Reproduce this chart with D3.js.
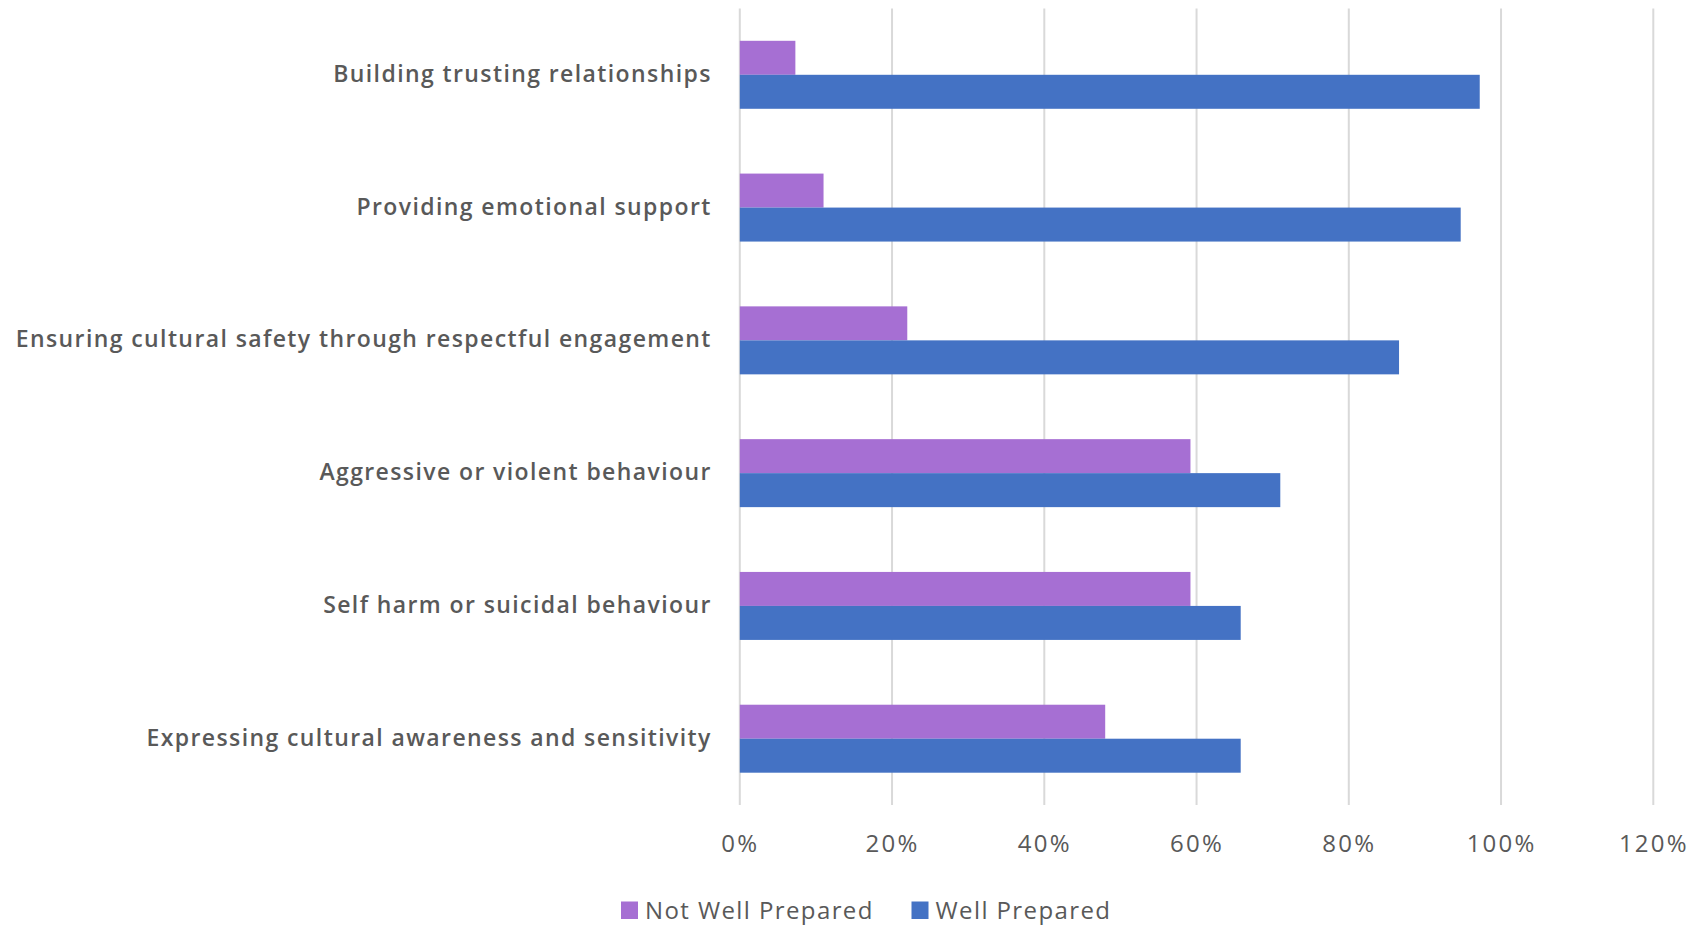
<!DOCTYPE html>
<html>
<head>
<meta charset="utf-8">
<script src="https://cdn.jsdelivr.net/npm/d3@7"></script>
<style>
  html, body { margin: 0; padding: 0; background: #ffffff; }
  svg { display: block; }
  text { font-family: "Open Sans", "Noto Sans", sans-serif; fill: #595959; }
</style>
</head>
<body>
<svg id="chart" width="1701" height="925"></svg>
<script>
// Survey categories, listed top to bottom
const categories = [
  "Building trusting relationships",
  "Providing emotional support",
  "Ensuring cultural safety through respectful engagement",
  "Aggressive or violent behaviour",
  "Self harm or suicidal behaviour",
  "Expressing cultural awareness and sensitivity"
];

// Share of respondents (%) per category
const notWellPrepared = [7.3, 11, 22, 59.2, 59.2, 48];
const wellPrepared = [97.2, 94.7, 86.6, 71, 65.8, 65.8];

const seriesNames = ["Not Well Prepared", "Well Prepared"];
const seriesColors = ["#A66FD3", "#4472C4"];

// Axis tick values (percent)
const tickValues = [0, 20, 40, 60, 80, 100, 120];

const svg = d3.select("#chart");

const plot = { left: 739.8, right: 1653.3, top: 8.4, bottom: 805.1 };

const x = d3.scaleLinear().domain([0, 120]).range([plot.left, plot.right]);

const y = d3.scaleBand()
  .domain(categories)
  .range([plot.top, plot.bottom])
  .paddingInner(0.488)
  .paddingOuter(0.244);

const ySeries = d3.scaleBand()
  .domain(seriesNames)
  .range([0, y.bandwidth()]);

const color = d3.scaleOrdinal().domain(seriesNames).range(seriesColors);

const rows = categories.map((c, i) => ({
  category: c,
  values: [
    { series: seriesNames[0], value: notWellPrepared[i] },
    { series: seriesNames[1], value: wellPrepared[i] }
  ]
}));

// Vertical gridlines
svg.append("g")
  .selectAll("line")
  .data(tickValues)
  .join("line")
  .attr("x1", d => x(d))
  .attr("x2", d => x(d))
  .attr("y1", plot.top)
  .attr("y2", plot.bottom)
  .attr("stroke", "#d9d9d9")
  .attr("stroke-width", 2);

// Grouped horizontal bars
svg.append("g")
  .selectAll("g")
  .data(rows)
  .join("g")
  .attr("transform", d => `translate(0,${y(d.category)})`)
  .selectAll("rect")
  .data(d => d.values)
  .join("rect")
  .attr("x", x(0))
  .attr("y", d => ySeries(d.series))
  .attr("width", d => x(d.value) - x(0))
  .attr("height", ySeries.bandwidth())
  .attr("fill", d => color(d.series));

// Bottom axis labels
const xAxis = d3.axisBottom(x)
  .tickValues(tickValues)
  .tickFormat(d => d + "%")
  .tickSize(0)
  .tickPadding(0);

const gx = svg.append("g")
  .attr("transform", `translate(0,${plot.bottom})`)
  .call(xAxis);
gx.select(".domain").remove();
gx.selectAll("text")
  .attr("dy", null)
  .attr("y", 46.5)
  .style("font-size", "24px")
  .style("letter-spacing", "2.2px")
  .attr("fill", "#595959");

// Category labels
const yAxis = d3.axisLeft(y).tickSize(0).tickPadding(28);
const gy = svg.append("g")
  .attr("transform", `translate(${plot.left},0)`)
  .call(yAxis);
gy.select(".domain").remove();
gy.selectAll("text")
  .attr("dy", "0.31em")
  .style("font-size", "23px")
  .style("font-weight", 600)
  .style("letter-spacing", "1.4px")
  .attr("fill", "#595959");

// Legend
const legendItems = [
  { name: seriesNames[0], x: 621 },
  { name: seriesNames[1], x: 911.5 }
];
const legend = svg.append("g");
const li = legend.selectAll("g")
  .data(legendItems)
  .join("g")
  .attr("transform", d => `translate(${d.x},901.5)`);
li.append("rect")
  .attr("width", 17)
  .attr("height", 17.5)
  .attr("fill", d => color(d.name));
li.append("text")
  .attr("x", 24)
  .attr("y", 17.5)
  .style("font-size", "24px")
  .style("letter-spacing", "1.4px")
  .text(d => d.name);
</script>
</body>
</html>
